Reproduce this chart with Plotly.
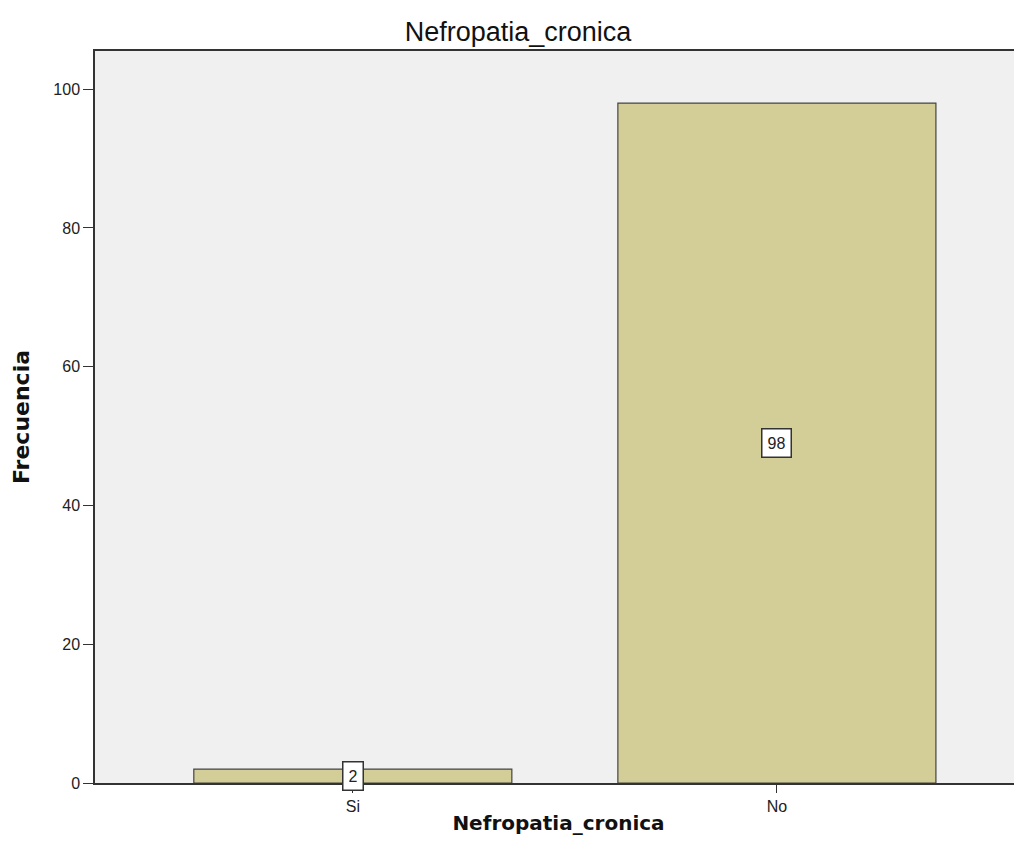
import plotly.graph_objects as go

categories = ["Si", "No"]
values = [2, 98]
y_ticks = [0, 20, 40, 60, 80, 100]

# page has an 8px body margin; margins below compensate for it
fig = go.Figure()
fig.add_trace(go.Bar(
    x=categories, y=values, width=0.75,
    marker=dict(color="#D3CE97", line=dict(color="#444444", width=1.2)),
    hoverinfo="skip",
))

for c, v in zip(categories, values):
    fig.add_annotation(
        x=c, y=v / 2, text=str(v), showarrow=False,
        font=dict(family="Arial, Liberation Sans", size=16, color="#222222"),
        bgcolor="white", bordercolor="#333333", borderwidth=1.5, borderpad=5,
    )

fig.update_layout(
    width=1022, height=866,
    margin=dict(l=87, r=8, t=43, b=91),
    paper_bgcolor="white", plot_bgcolor="#F0F0F0",
    showlegend=False,
    title=dict(text="Nefropatia_cronica", x=510 / 1022, xanchor="center", xref="container",
               y=1 - 24 / 866, yanchor="middle", yref="container",
               font=dict(family="Arial, Liberation Sans", size=27, color="#111111")),
    font=dict(family="Arial, Liberation Sans", color="#222222"),
)
fig.update_xaxes(
    range=[-0.608, 1.578], showline=True, linecolor="#333333", linewidth=1.5, mirror=True,
    ticks="outside", ticklen=8, tickcolor="#333333", showgrid=False, zeroline=False,
    tickfont=dict(size=16, color="#222222"),
    title=dict(text="<b>Nefropatia_cronica</b>",
               font=dict(family="DejaVu Sans", size=20, color="#111111"), standoff=2),
)
fig.update_yaxes(
    range=[0, 105.5], tickvals=y_ticks, showline=True, linecolor="#333333", linewidth=1.5,
    ticks="outside", ticklen=10, tickcolor="#333333", showgrid=False, zeroline=False,
    tickfont=dict(size=16, color="#222222"),
    title=dict(text="<b>Frecuencia</b>",
               font=dict(family="DejaVu Sans", size=22, color="#111111"), standoff=18),
)

fig.write_html("out.html")
